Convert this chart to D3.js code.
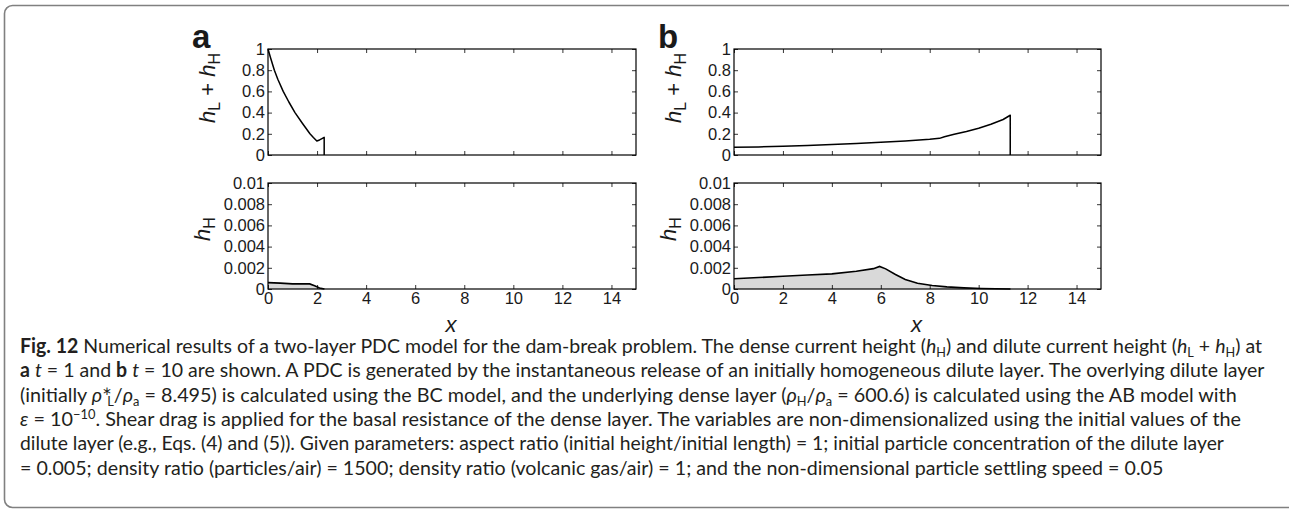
<!DOCTYPE html>
<html>
<head>
<meta charset="utf-8">
<script src="https://cdn.jsdelivr.net/npm/d3@7"></script>
<style>
  html, body { margin: 0; padding: 0; background: #fff; overflow: hidden; }
  svg { display: block; }
</style>
</head>
<body>
<svg id="fig" width="1289" height="512"></svg>
<script>
// ---- data ----
const xTicks = [0, 2, 4, 6, 8, 10, 12, 14];
const totalTicks = [0, 0.2, 0.4, 0.6, 0.8, 1];
const denseTicks = [0, 0.002, 0.004, 0.006, 0.008, 0.01];

// panel a, t = 1
const aTotalX = [0, 0.1, 0.26, 0.4, 0.62, 0.85, 1.1, 1.4, 1.71, 1.85, 1.99, 2.1, 2.2, 2.29, 2.29];
const aTotalH = [1, 0.92, 0.8, 0.715, 0.6, 0.5, 0.4, 0.3, 0.2, 0.165, 0.132, 0.142, 0.155, 0.167, 0];
const aDenseX = [0, 0.5, 1.0, 1.5, 1.7, 1.9, 2.1, 2.3];
const aDenseH = [0.0006, 0.00055, 0.00048, 0.0005, 0.00048, 0.0003, 0.0001, 0];

// panel b, t = 10
const bTotalX = [0, 1, 2, 3, 4, 5, 6, 7, 8, 8.4, 8.6, 9, 9.5, 10, 10.5, 11, 11.29, 11.29];
const bTotalH = [0.073, 0.076, 0.082, 0.089, 0.098, 0.108, 0.12, 0.133, 0.148, 0.157, 0.172, 0.195, 0.222, 0.252, 0.29, 0.335, 0.375, 0];
const bDenseX = [0, 1, 2, 3, 4, 5, 5.7, 5.95, 6.2, 6.6, 7, 7.5, 8.1, 8.7, 9.4, 10.1, 11.3];
const bDenseH = [0.00096, 0.00108, 0.0012, 0.00132, 0.00143, 0.00168, 0.00192, 0.00213, 0.0019, 0.00137, 0.0009, 0.00055, 0.00033, 0.0002, 0.00011, 0.00005, 0];

// caption, one array of [text, style] pieces per line
const captionLines = [
  [["Fig. 12", "b"], [" Numerical results of a two-layer PDC model for the dam-break problem. The dense current height ("], ["h", "i"], ["H", "sub"], [") and dilute current height ("], ["h", "i"], ["L", "sub"], [" + "], ["h", "i"], ["H", "sub"], [") at"]],
  [["a", "b"], [" "], ["t", "i"], [" = 1 and "], ["b", "b"], [" "], ["t", "i"], [" = 10 are shown. A PDC is generated by the instantaneous release of an initially homogeneous dilute layer. The overlying dilute layer"]],
  [["(initially "], ["ρ", "i"], ["L", "supL"], ["/"], ["ρ", "i"], ["a", "sub"], [" = 8.495) is calculated using the BC model, and the underlying dense layer ("], ["ρ", "i"], ["H", "sub"], ["/"], ["ρ", "i"], ["a", "sub"], [" = 600.6) is calculated using the AB model with"]],
  [["ε", "i"], [" = 10"], ["−10", "sup"], [". Shear drag is applied for the basal resistance of the dense layer. The variables are non-dimensionalized using the initial values of the"]],
  [["dilute layer (e.g., Eqs. (4) and (5)). Given parameters: aspect ratio (initial height/initial length) = 1; initial particle concentration of the dilute layer"]],
  [["= 0.005; density ratio (particles/air) = 1500; density ratio (volcanic gas/air) = 1; and the non-dimensional particle settling speed = 0.05"]]
];
const captionEnds = [1263, 1265, 1242, 1242, 1225, 1164];

// ---- drawing ----
const svg = d3.select("#fig");
const axisFont = "'Liberation Sans', Arial, sans-serif";

svg.append("rect")
  .attr("x", 4.5).attr("y", 5.5)
  .attr("width", 1300).attr("height", 502)
  .attr("rx", 8)
  .attr("fill", "none")
  .attr("stroke", "#808080")
  .attr("stroke-width", 1.6);

const panels = [
  { name: "a", left: 268, right: 636, total: [aTotalX, aTotalH], dense: [aDenseX, aDenseH] },
  { name: "b", left: 734, right: 1101, total: [bTotalX, bTotalH], dense: [bDenseX, bDenseH] }
];

function drawFrame(g, x, y, yTicks, fmt, withX) {
  const [x0, x1] = x.range();
  const [y0, y1] = y.range();
  // inward ticks on all four sides
  g.append("g").attr("transform", `translate(0,${y0})`)
    .call(d3.axisBottom(x).tickValues(xTicks).tickSize(-4).tickPadding(3)
      .tickFormat(withX ? d3.format("d") : () => ""));
  g.append("g").attr("transform", `translate(0,${y1})`)
    .call(d3.axisTop(x).tickValues(xTicks).tickSize(-4).tickFormat(() => ""));
  g.append("g").attr("transform", `translate(${x0},0)`)
    .call(d3.axisLeft(y).tickValues(yTicks).tickSize(-4).tickPadding(3).tickFormat(fmt));
  g.append("g").attr("transform", `translate(${x1},0)`)
    .call(d3.axisRight(y).tickValues(yTicks).tickSize(-4).tickFormat(() => ""));
  g.selectAll(".domain").remove();
  g.selectAll(".tick line").attr("stroke", "#000").attr("stroke-width", 0.8);
  g.selectAll("g").attr("font-family", axisFont).attr("font-size", 16.5);
  g.selectAll(".tick text").attr("fill", "#1a1a1a");
  g.append("rect")
    .attr("x", x0).attr("y", y1)
    .attr("width", x1 - x0).attr("height", y0 - y1)
    .attr("fill", "none").attr("stroke", "#000").attr("stroke-width", 1.2);
}

function yLabel(g, bx, cy, parts) {
  const t = g.append("text")
    .attr("transform", `translate(${bx},${cy}) rotate(-90)`)
    .attr("text-anchor", "middle")
    .attr("font-family", axisFont).attr("font-size", 22).attr("fill", "#1a1a1a");
  let shift = 0;
  parts.forEach(([s, k]) => {
    const ts = t.append("tspan").text(s);
    if (k === "i") ts.attr("font-style", "italic");
    if (k === "sub") { ts.attr("font-size", 16).attr("dy", 5 - shift); shift = 5; }
    else if (shift) { ts.attr("dy", -shift); shift = 0; }
  });
}

panels.forEach(p => {
  const g = svg.append("g");
  const x = d3.scaleLinear().domain([0, 15]).range([p.left, p.right]);
  const yTop = d3.scaleLinear().domain([0, 1]).range([155, 49]);
  const yBot = d3.scaleLinear().domain([0, 0.01]).range([289, 183]);

  // dense layer (area + outline) under the frame
  const dense = d3.zip(p.dense[0], p.dense[1]);
  g.append("path").datum(dense)
    .attr("d", d3.area().x(d => x(d[0])).y0(yBot(0)).y1(d => yBot(d[1])))
    .attr("fill", "#d9d9d9");
  g.append("path").datum(dense)
    .attr("d", d3.line().x(d => x(d[0])).y(d => yBot(d[1])))
    .attr("fill", "none").attr("stroke", "#000").attr("stroke-width", 1.6);

  const total = d3.zip(p.total[0], p.total[1]);
  g.append("path").datum(total)
    .attr("d", d3.line().x(d => x(d[0])).y(d => yTop(d[1])))
    .attr("fill", "none").attr("stroke", "#000").attr("stroke-width", 1.5)
    .attr("stroke-linejoin", "round");

  drawFrame(g, x, yTop, totalTicks, d => String(d), false);
  drawFrame(g, x, yBot, denseTicks, d => String(+d.toFixed(3)), true);

  yLabel(g, p.left - 53, 88, [["h", "i"], ["L", "sub"], [" + "], ["h", "i"], ["H", "sub"]]);
  yLabel(g, p.left - 58, 229, [["h", "i"], ["H", "sub"]]);

  g.append("text")
    .attr("x", (p.left + p.right) / 2 - 1).attr("y", 332)
    .attr("text-anchor", "middle")
    .attr("font-family", axisFont).attr("font-size", 22).attr("font-style", "italic")
    .attr("fill", "#1a1a1a")
    .text("x");

  g.append("text")
    .attr("x", p.left - 76).attr("y", 48)
    .attr("font-family", axisFont).attr("font-size", 33).attr("font-weight", "bold")
    .attr("fill", "#1a1a1a")
    .text(p.name);
});

// caption
const cap = svg.append("g");
captionLines.forEach((line, i) => {
  const y = 353 + i * 24.3;
  const t = cap.append("text")
    .attr("x", 0).attr("y", 0)
    .attr("font-family", "Lato, 'Open Sans', sans-serif")
    .attr("font-size", 20)
    .attr("fill", "#231f20");
  let shift = 0;
  line.forEach(([s, k]) => {
    let want = 0;
    if (k === "supL") {
      // starred density with subscript L stacked under the star
      t.append("tspan").text("∗").attr("font-size", 12).attr("dy", -7 - shift);
      t.append("tspan").text(s).attr("font-size", 13).attr("dx", -5).attr("dy", 11);
      shift = 4;
      return;
    }
    const ts = t.append("tspan").text(s);
    if (k === "b") ts.attr("font-weight", "bold");
    if (k === "i") ts.attr("font-style", "italic");
    if (k === "sub") { ts.attr("font-size", 13); want = 4; }
    if (k === "sup") { ts.attr("font-size", 13); want = -7; }
    if (want !== shift) ts.attr("dy", want - shift);
    shift = want;
  });
  const w = t.node().getComputedTextLength();
  const sx = (captionEnds[i] - 20) / w;
  t.attr("transform", `translate(20,${y}) scale(${sx},1)`);
});
</script>
</body>
</html>
